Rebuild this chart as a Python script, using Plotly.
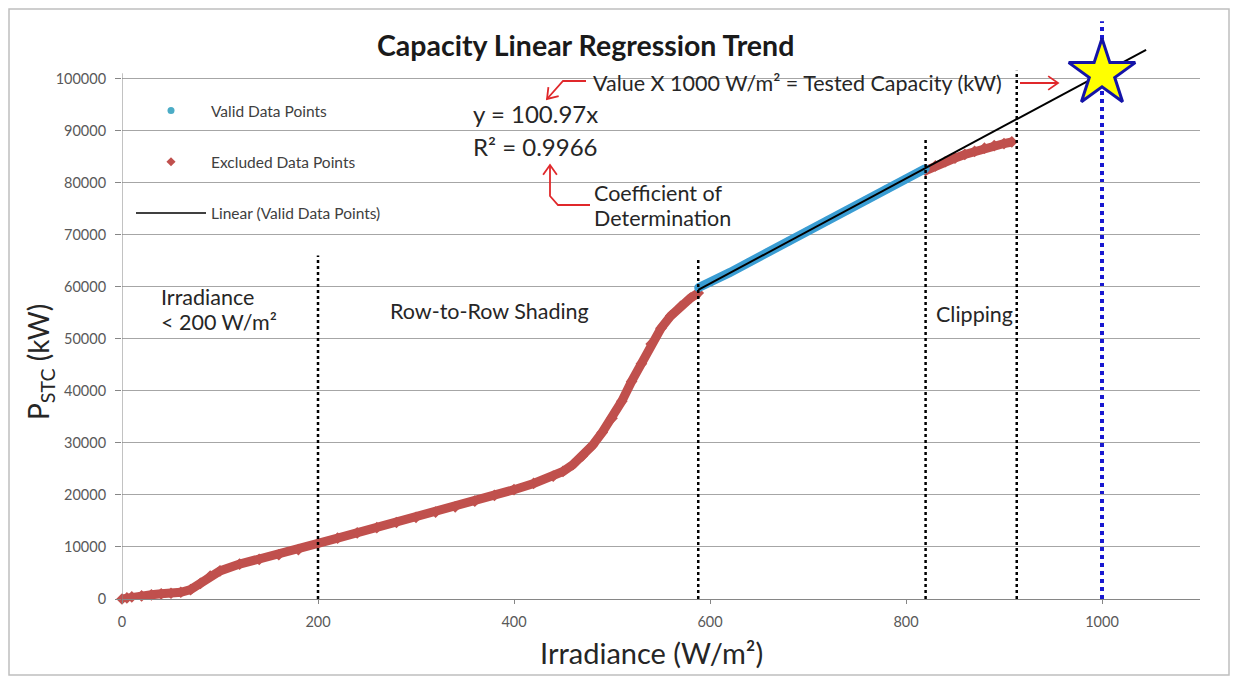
import math
import plotly.graph_objects as go

# ---------------- data ----------------
excl_low_x = [0, 5, 10, 20, 30, 40, 50, 60, 70, 80, 90, 100, 120, 140, 160, 180,
              200, 220, 240, 260, 280, 300, 320, 340, 360, 380, 400, 420, 440, 450,
              460, 470, 480, 490, 500, 510, 520, 530, 540, 550, 560, 570, 580, 588]
excl_low_y = [0, 200, 400, 600, 800, 1000, 1100, 1300, 1800, 3000, 4400, 5400, 6700,
              7600, 8500, 9500, 10700, 11700, 12700, 13700, 14700, 15700, 16700,
              17700, 18800, 19900, 21000, 22200, 23600, 24500, 25800, 27500, 29500,
              32000, 34700, 38000, 41800, 45200, 49000, 52000, 54400, 56200, 57800, 58800]

valid_x = [588, 600, 620, 640, 660, 680, 700, 720, 740, 760, 780, 800, 820]
valid_y = [59800, 60800, 62700, 64700, 66700, 68700, 70700, 72700, 74700, 76700,
           78700, 80700, 82700]

excl_clip_x = [820, 830, 840, 850, 860, 870, 880, 890, 900, 908]
excl_clip_y = [82300, 83200, 84000, 84700, 85400, 86000, 86600, 87100, 87500, 87800]

slope = 100.97
r_squared = 0.9966
trend_x = [588, 1045]
trend_y = [slope * v for v in trend_x]

boundary_x = [200, 588, 820, 913]
boundary_top = [66000, 65600, 88700, 101500]
stc_irradiance = 1000
stc_line_top = 111000

x_ticks = [0, 200, 400, 600, 800, 1000]
y_ticks = [0, 10000, 20000, 30000, 40000, 50000, 60000, 70000, 80000, 90000, 100000]

# ---------------- styling helpers ----------------
RED = "#C0504D"
BLUE = "#3A9DD3"
ARROW = "#E0282B"
FONT = "Lato"
OFF = 8                     # page body margin in the browser
W, H = 1241 - OFF, 677 - OFF
ML, MR, MT, MB = 114, 41, 8, 78
PW, PH = W - ML - MR, H - MT - MB


def px(xp):  # page pixel x -> paper
    return (xp - OFF - ML) / PW


def py(yp):  # page pixel y -> paper
    return (H - MB - (yp - OFF)) / PH


fig = go.Figure()

# data traces
fig.add_trace(go.Scatter(x=excl_low_x, y=excl_low_y, mode="lines+markers",
                         line=dict(color=RED, width=9),
                         marker=dict(symbol="diamond", size=9, color=RED),
                         cliponaxis=False, showlegend=False, hoverinfo="skip"))
fig.add_trace(go.Scatter(x=excl_clip_x, y=excl_clip_y, mode="lines+markers",
                         line=dict(color=RED, width=9),
                         marker=dict(symbol="diamond", size=9, color=RED),
                         showlegend=False, hoverinfo="skip"))
fig.add_trace(go.Scatter(x=valid_x, y=valid_y, mode="lines+markers",
                         line=dict(color=BLUE, width=9),
                         marker=dict(symbol="circle", size=8, color=BLUE),
                         showlegend=False, hoverinfo="skip"))
fig.add_trace(go.Scatter(x=trend_x, y=trend_y, mode="lines",
                         line=dict(color="black", width=2),
                         showlegend=False, hoverinfo="skip"))

# star at tested capacity
fig.add_trace(go.Scatter(x=[stc_irradiance], y=[slope * stc_irradiance], mode="markers",
                         marker=dict(symbol="star", size=50, color="#FFFF00",
                                     line=dict(color="#1414A8", width=3)),
                         cliponaxis=False, showlegend=False, hoverinfo="skip"))

# legend-only traces
fig.add_trace(go.Scatter(x=[None], y=[None], mode="markers", name="Valid Data Points",
                         marker=dict(symbol="circle", size=7, color="#4BACC6"),
                         legendgroup="a"))
fig.add_trace(go.Scatter(x=[None], y=[None], mode="markers", name="Excluded Data Points",
                         marker=dict(symbol="diamond", size=7, color=RED),
                         legendgroup="b"))
fig.add_trace(go.Scatter(x=[None], y=[None], mode="lines", name="Linear (Valid Data Points)",
                         line=dict(color="black", width=1.5),
                         legendgroup="c"))

shapes = []
# y axis line (only up to 100000)
shapes.append(dict(type="line", xref="x", yref="y", x0=0, x1=0, y0=0, y1=101000,
                   line=dict(color="#868686", width=1)))
# boundary dotted lines
for bx, bt in zip(boundary_x, boundary_top):
    shapes.append(dict(type="line", xref="x", yref="y", x0=bx, x1=bx, y0=0, y1=bt,
                       line=dict(color="black", width=2.5, dash="dot"), layer="above"))
shapes.append(dict(type="line", xref="x", yref="y", x0=stc_irradiance, x1=stc_irradiance,
                   y0=0, y1=stc_line_top,
                   line=dict(color="#1A1AD0", width=4, dash="dot"), layer="below"))


def red_path(points):
    d = "M " + " L ".join(f"{px(a)},{py(b)}" for a, b in points)
    shapes.append(dict(type="path", xref="paper", yref="paper", path=d,
                       line=dict(color=ARROW, width=1.8)))


def red_arrow(points, head=12, ang=35):
    """polyline in page pixels ending in an open chevron head at the last point"""
    red_path(points)
    (x0, y0), (x1, y1) = points[-2], points[-1]
    theta = math.atan2(y0 - y1, x0 - x1)
    a1 = theta + math.radians(ang)
    a2 = theta - math.radians(ang)
    red_path([(x1 + head * math.cos(a1), y1 + head * math.sin(a1)), (x1, y1),
              (x1 + head * math.cos(a2), y1 + head * math.sin(a2))])


red_arrow([(586, 81), (563, 81), (547, 99)])
red_arrow([(590, 205), (558, 205), (550, 196), (550, 165)])
red_arrow([(1020, 83), (1058, 83)])

# outer border
shapes.append(dict(type="rect", xref="paper", yref="paper", x0=px(9), x1=px(1229),
                   y0=py(675), y1=py(9), line=dict(color="#BFBFBF", width=1.5)))

annotations = []


def txt(text, xl, yc, size=21.5, anchor="left", color="#262626"):
    annotations.append(dict(xref="paper", yref="paper", x=px(xl), y=py(yc), text=text,
                            showarrow=False, xanchor=anchor, yanchor="middle",
                            font=dict(family=FONT, size=size, color=color)))


txt("<b>Capacity Linear Regression Trend</b>", 585, 45, size=28.5, anchor="center",
    color="#1a1a1a")
txt(f"y = {slope}x", 471, 113, size=24)
txt(f"R² = {r_squared}", 471, 146, size=24)
txt("Value X 1000 W/m² = Tested Capacity (kW)", 591, 83)
txt("Coefficient of", 592, 193)
txt("Determination", 592, 218)
txt("Irradiance", 159, 297)
txt("< 200 W/m²", 159, 322)
txt("Row-to-Row Shading", 388, 311)
txt("Clipping", 934, 314)

# axis titles
annotations.append(dict(xref="paper", yref="paper", x=px(40), y=py(362),
                        text="P<sub>STC</sub> (kW)", textangle=-90, showarrow=False,
                        xanchor="center", yanchor="middle",
                        font=dict(family=FONT, size=28, color="#262626")))
annotations.append(dict(xref="paper", yref="paper", x=px(651), y=py(652),
                        text="Irradiance (W/m²)", showarrow=False,
                        xanchor="center", yanchor="middle",
                        font=dict(family=FONT, size=29, color="#262626")))

fig.update_layout(
    width=W, height=H,
    margin=dict(l=ML, r=MR, t=MT, b=MB),
    paper_bgcolor="white", plot_bgcolor="white",
    font=dict(family=FONT, color="#595959"),
    showlegend=True,
    legend=dict(x=px(131), y=py(94), xanchor="left", yanchor="top",
                bgcolor="rgba(0,0,0,0)", tracegroupgap=28, itemwidth=70,
                font=dict(family=FONT, size=15.5, color="#404040"),
                traceorder="grouped"),
    xaxis=dict(range=[0, 1100], tickvals=x_ticks, showgrid=False, zeroline=False,
               showline=True, linecolor="#868686", linewidth=1,
               ticks="outside", ticklen=4, tickcolor="#868686",
               ticklabelstandoff=6,
               tickfont=dict(family=FONT, size=14.5, color="#595959")),
    yaxis=dict(range=[0, 112000], tickvals=y_ticks, tickformat="d", showgrid=True,
               gridcolor="#A6A6A6", gridwidth=1, zeroline=False, showline=False,
               ticks="outside", ticklen=6, tickcolor="#868686",
               ticklabelstandoff=6,
               tickfont=dict(family=FONT, size=14.5, color="#595959")),
    shapes=shapes,
    annotations=annotations,
)

fig.write_html("out.html")
